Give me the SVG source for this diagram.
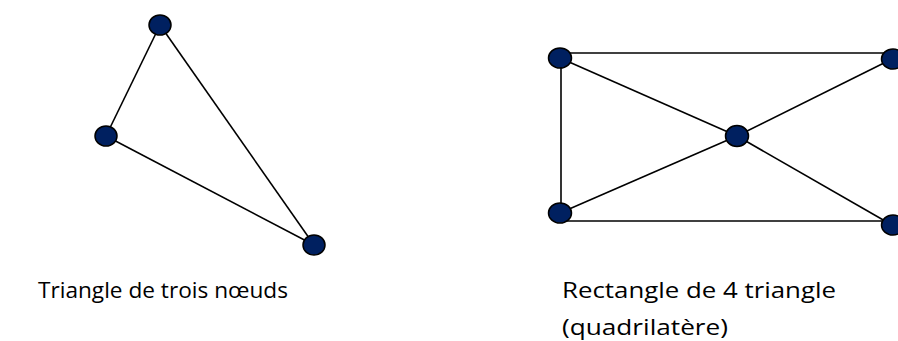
<svg xmlns="http://www.w3.org/2000/svg" width="898" height="341" viewBox="0 0 898 341">
<style>
.node{fill:#002060;stroke:#000;stroke-width:1.5}
.edge{stroke:#000;stroke-width:1.6;fill:none}
.lbl{font-family:"Open Sans","Liberation Sans",sans-serif;font-size:22px;fill:#000}
</style>
<rect width="898" height="341" fill="#fff"/>
<g id="connectors">
<line class="edge" x1="160" y1="25" x2="106" y2="136"/>
<line class="edge" x1="160" y1="25" x2="314" y2="245"/>
<line class="edge" x1="106" y1="136" x2="314" y2="245"/>
<line class="edge" x1="560" y1="53" x2="892" y2="53"/>
<line class="edge" x1="560" y1="221" x2="892" y2="221"/>
<line class="edge" x1="561" y1="58" x2="561" y2="213"/>
<line class="edge" x1="560" y1="58" x2="737" y2="136"/>
<line class="edge" x1="737" y1="136" x2="892" y2="225"/>
<line class="edge" x1="560" y1="213" x2="737" y2="136"/>
<line class="edge" x1="737" y1="136" x2="892" y2="59"/>
</g>
<g id="n1"><ellipse class="node" cx="160" cy="25" rx="11" ry="10"/></g>
<g id="n2"><ellipse class="node" cx="106" cy="136" rx="11" ry="10"/></g>
<g id="n3"><ellipse class="node" cx="314" cy="245" rx="11" ry="10"/></g>
<g id="r1"><ellipse class="node" cx="560" cy="58" rx="11.5" ry="10"/></g>
<g id="r2"><ellipse class="node" cx="893" cy="59" rx="11.5" ry="10"/></g>
<g id="r3"><ellipse class="node" cx="737" cy="136" rx="11.5" ry="10.5"/></g>
<g id="r4"><ellipse class="node" cx="560" cy="213" rx="11.5" ry="10"/></g>
<g id="r5"><ellipse class="node" cx="893" cy="225" rx="11.5" ry="10"/></g>
<text class="lbl" x="38" y="298" textLength="250" lengthAdjust="spacingAndGlyphs">Triangle de trois nœuds</text>
<text class="lbl" x="562" y="298" textLength="274" lengthAdjust="spacingAndGlyphs">Rectangle de 4 triangle</text>
<text class="lbl" x="562" y="335" textLength="166" lengthAdjust="spacingAndGlyphs">(quadrilatère)</text>
</svg>
